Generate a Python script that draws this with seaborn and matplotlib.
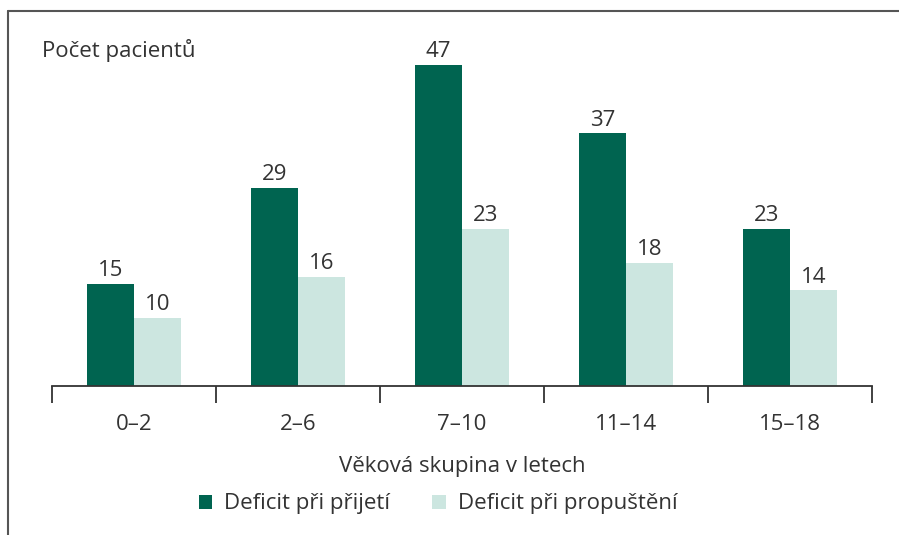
import matplotlib
matplotlib.use("Agg")
import matplotlib.pyplot as plt
import seaborn as sns
import pandas as pd
from matplotlib.patches import Patch
from matplotlib.lines import Line2D

categories = ["0–2", "2–6", "7–10", "11–14", "15–18"]
prijeti = [15, 29, 47, 37, 23]
propusteni = [10, 16, 23, 18, 14]
series_names = ["Deficit při přijetí", "Deficit při propuštění"]
colors = ["#006450", "#cce6e0"]
text_color = "#333333"

sns.set_theme(style="white")
plt.rcParams["font.family"] = ["Open Sans", "DejaVu Sans"]

df = pd.DataFrame({
    "kat": categories * 2,
    "serie": [series_names[0]] * len(categories) + [series_names[1]] * len(categories),
    "pocet": prijeti + propusteni,
})

FS = 16
W, H = 899, 535
fig = plt.figure(figsize=(W / 100, H / 100), dpi=100)
left, right, bottom = 52, 872, 386
ymax = 50
ppu = 321 / 47
top = bottom - ymax * ppu
ax = fig.add_axes([left / W, 1 - bottom / H, (right - left) / W, (bottom - top) / H])

sns.barplot(data=df, x="kat", y="pocet", hue="serie", palette=colors,
            width=0.573, saturation=1, ax=ax, legend=False, linewidth=0)

for cont in ax.containers:
    ax.bar_label(cont, padding=2, fontsize=FS, color=text_color)

ax.set_xlim(-0.5, len(categories) - 0.5)
ax.set_ylim(0, ymax)
ax.set_yticks([])
ax.set_xticks(range(len(categories)))
ax.set_xticklabels(categories, fontsize=FS, color=text_color)
ax.set_xticks([i - 0.5 for i in range(len(categories) + 1)], minor=True)
ax.tick_params(axis="x", which="major", length=0, pad=20)
ax.tick_params(axis="x", which="minor", length=12, width=1.3, color="#333333", direction="out", bottom=True)
for s in ["top", "right", "left"]:
    ax.spines[s].set_visible(False)
ax.spines["bottom"].set_color("#333333")
ax.spines["bottom"].set_linewidth(1.3)
ax.set_xlabel("Věková skupina v letech", fontsize=FS, color=text_color, labelpad=15)
ax.set_ylabel("")

fig.text(42 / W, 1 - 50 / H, "Počet pacientů", fontsize=FS, color=text_color, va="center", ha="left")

# frame lines (left and top)
fig.add_artist(Line2D([8 / W, 8 / W], [0, 1 - 11 / H], transform=fig.transFigure, color="#555555", lw=1.5))
fig.add_artist(Line2D([8 / W, 1], [1 - 11 / H, 1 - 11 / H], transform=fig.transFigure, color="#555555", lw=1.5))

handles = [Patch(facecolor=c, edgecolor="none") for c in colors]
fig.legend(handles, series_names, loc="center", bbox_to_anchor=(438 / W, 1 - 504 / H), ncol=2,
           frameon=False, fontsize=FS, handlelength=0.6, handleheight=0.6, handletextpad=0.55,
           columnspacing=1.9, labelcolor=text_color)

fig.savefig("out.png", dpi=100)
